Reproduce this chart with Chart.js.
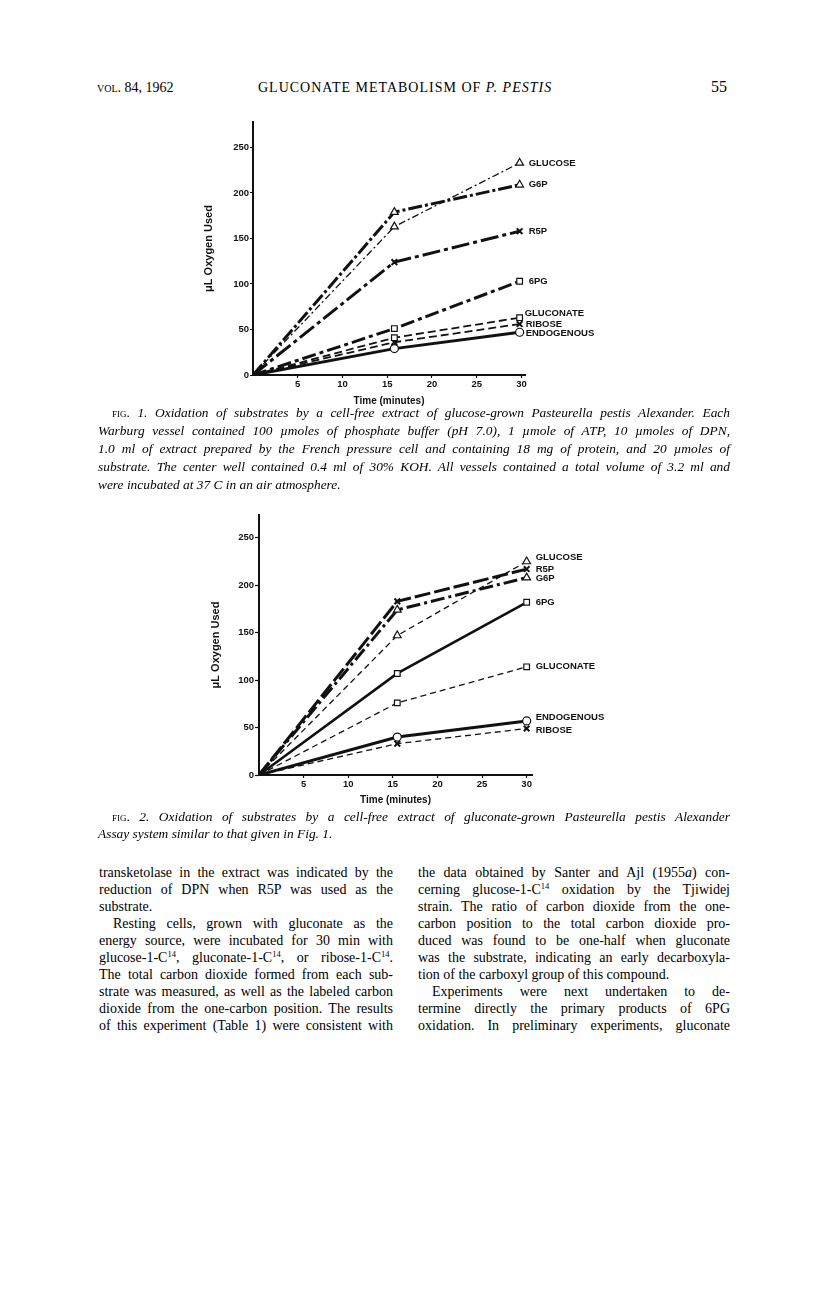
<!DOCTYPE html>
<html>
<head>
<meta charset="utf-8">
<script src="https://cdn.jsdelivr.net/npm/chart.js@4.4.1/dist/chart.umd.min.js"></script>
<style>
  body { margin: 0; background: #fff; width: 816px; height: 1298px; position: relative; overflow: hidden;
         font-family: "Liberation Serif", "DejaVu Serif", serif; color: #000; }
  .abs { position: absolute; }
  .hdr { font-size: 14px; line-height: 16px; }
  .cap { font-style: italic; font-size: 13.4px; line-height: 18px; width: 632px; }
  .cap div, .col div { text-align: justify; text-align-last: justify; }
  .cap div.last, .col div.last { text-align-last: left; }
  .sc { font-style: normal; font-variant: small-caps; }
  .col { font-size: 14px; line-height: 17px; width: 294px; }
  .ind { text-indent: 14px; }
  sup { font-size: 8.5px; line-height: 0; vertical-align: 5px; }
  canvas { position: absolute; }
</style>
</head>
<body>

<div class="abs hdr" style="left:97px; top:80px;"><span class="sc">vol.</span> 84, 1962</div>
<div class="abs hdr" style="left:258px; top:80px; letter-spacing:1px;">GLUCONATE METABOLISM OF <i>P. PESTIS</i></div>
<div class="abs" style="left:711px; top:78px; font-size:16px; line-height:18px;">55</div>

<canvas id="fig1" width="520" height="320" style="left:150px; top:100px;"></canvas>

<div class="abs cap" style="left:98px; top:404px;">
  <div style="padding-left:14px;"><span class="sc">fig.</span> 1. Oxidation of substrates by a cell-free extract of glucose-grown Pasteurella pestis Alexander. Each</div>
  <div>Warburg vessel contained 100 µmoles of phosphate buffer (pH 7.0), 1 µmole of ATP, 10 µmoles of DPN,</div>
  <div>1.0 ml of extract prepared by the French pressure cell and containing 18 mg of protein, and 20 µmoles of</div>
  <div>substrate. The center well contained 0.4 ml of 30% KOH. All vessels contained a total volume of 3.2 ml and</div>
  <div class="last">were incubated at 37 C in an air atmosphere.</div>
</div>

<canvas id="fig2" width="520" height="320" style="left:150px; top:500px;"></canvas>

<div class="abs cap" style="left:98px; top:808px; line-height:17px;">
  <div style="padding-left:14px;"><span class="sc">fig.</span> 2. Oxidation of substrates by a cell-free extract of gluconate-grown Pasteurella pestis Alexander</div>
  <div class="last">Assay system similar to that given in Fig. 1.</div>
</div>

<div class="abs col" style="left:99px; top:864px;">
  <div>transketolase in the extract was indicated by the</div>
  <div>reduction of DPN when R5P was used as the</div>
  <div class="last">substrate.</div>
  <div class="ind">Resting cells, grown with gluconate as the</div>
  <div>energy source, were incubated for 30 min with</div>
  <div>glucose-1-C<sup>14</sup>, gluconate-1-C<sup>14</sup>, or ribose-1-C<sup>14</sup>.</div>
  <div>The total carbon dioxide formed from each sub-</div>
  <div>strate was measured, as well as the labeled carbon</div>
  <div>dioxide from the one-carbon position. The results</div>
  <div>of this experiment (Table 1) were consistent with</div>
</div>

<div class="abs col" style="left:418px; top:864px; width:312px;">
  <div>the data obtained by Santer and Ajl (1955<i>a</i>) con-</div>
  <div>cerning glucose-1-C<sup>14</sup> oxidation by the Tjiwidej</div>
  <div>strain. The ratio of carbon dioxide from the one-</div>
  <div>carbon position to the total carbon dioxide pro-</div>
  <div>duced was found to be one-half when gluconate</div>
  <div>was the substrate, indicating an early decarboxyla-</div>
  <div class="last">tion of the carboxyl group of this compound.</div>
  <div class="ind">Experiments were next undertaken to de-</div>
  <div>termine directly the primary products of 6PG</div>
  <div>oxidation. In preliminary experiments, gluconate</div>
</div>

<script>
// Fig. 1: extract of glucose-grown cells (µL O2 used vs minutes)
var fig1Times = [0, 15.8, 29.8];
var fig1Glucose = [0, 163, 233];
var fig1G6P = [0, 179, 209];
var fig1R5P = [0, 124, 158];
var fig1SixPG = [0, 51, 103];
var fig1Gluconate = [0, 41, 63];
var fig1Ribose = [0, 36, 56];
var fig1Endogenous = [0, 29, 47];

// Fig. 2: extract of gluconate-grown cells
var fig2Times = [0, 15.5, 30];
var fig2Glucose = [0, 147, 225];
var fig2R5P = [0, 183, 217];
var fig2G6P = [0, 174, 208];
var fig2SixPG = [0, 107, 182];
var fig2Gluconate = [0, 76, 114];
var fig2Endogenous = [0, 40, 57];
var fig2Ribose = [0, 33, 49];

var xTickValues = [5, 10, 15, 20, 25, 30];
var yTickValues = [0, 50, 100, 150, 200, 250];

var SANS = '"Liberation Sans", Arial, sans-serif';

function makeDataset(label, times, values, st) {
    return {
        label: label,
        data: times.map(function(t, i) { return {x: t, y: values[i]}; }),
        borderColor: '#111',
        borderWidth: st.w,
        borderDash: st.dash,
        pointStyle: st.point,
        pointRadius: function(c) { return c.dataIndex === 0 ? 0 : (st.point === 'triangle' ? 4.5 : 4); },
        pointBackgroundColor: '#fff',
        pointBorderColor: '#111',
        pointBorderWidth: st.point === 'crossRot' ? 2 : 1.2,
        fill: false,
        tension: 0,
        labelDx: st.dx,
        labelDy: st.dy
    };
}

// writes the substrate name next to the last point of each line
var endLabels = {
    id: 'endLabels',
    afterDatasetsDraw: function(chart) {
        var ctx = chart.ctx;
        ctx.save();
        ctx.font = 'bold 9.5px ' + SANS;
        ctx.fillStyle = '#111';
        ctx.textBaseline = 'middle';
        chart.data.datasets.forEach(function(ds, i) {
            var pts = chart.getDatasetMeta(i).data;
            var p = pts[pts.length - 1];
            ctx.fillText(ds.label, p.x + ds.labelDx, p.y + ds.labelDy);
        });
        ctx.restore();
    }
};

function makeChart(id, datasets, g) {
    return new Chart(document.getElementById(id), {
        type: 'line',
        data: { datasets: datasets },
        options: {
            responsive: false,
            animation: false,
            layout: { padding: { top: g.top, right: g.right, left: 0, bottom: 0 } },
            plugins: { legend: { display: false }, tooltip: { enabled: false } },
            scales: {
                x: {
                    type: 'linear', min: 0, max: g.xMax,
                    afterBuildTicks: function(s) { s.ticks = xTickValues.map(function(v) { return {value: v}; }); },
                    afterFit: function(s) { s.height = 45; },
                    border: { display: true, color: '#111', width: 2 },
                    grid: { drawOnChartArea: false, color: '#111', tickLength: 3, tickWidth: 1.2 },
                    ticks: { color: '#111', padding: 1, autoSkip: false, maxRotation: 0,
                             font: { family: SANS, size: 9.5, weight: 'bold' } },
                    title: { display: true, text: 'Time (minutes)', color: '#111',
                             font: { family: SANS, size: 10, weight: 'bold' },
                             padding: { top: 0, bottom: g.xTitlePad } }
                },
                y: {
                    type: 'linear', min: 0, max: g.yMax,
                    afterBuildTicks: function(s) { s.ticks = yTickValues.map(function(v) { return {value: v}; }); },
                    afterFit: function(s) { s.width = g.yWidth; },
                    border: { display: true, color: '#111', width: 2 },
                    grid: { drawOnChartArea: false, color: '#111', tickLength: g.yTick, tickWidth: 1.2 },
                    ticks: { color: '#111', padding: 1, autoSkip: false,
                             font: { family: SANS, size: 9.5, weight: 'bold' } },
                    title: { display: true, text: 'μL Oxygen Used', color: '#111',
                             font: { family: SANS, size: 11, weight: 'bold' },
                             padding: { top: g.yTitlePad, bottom: 0 } }
                }
            }
        },
        plugins: [endLabels]
    });
}

makeChart('fig1', [
    makeDataset('GLUCOSE', fig1Times, fig1Glucose, {w: 1.3, dash: [7, 3, 2, 3], point: 'triangle', dx: 9, dy: 0}),
    makeDataset('G6P', fig1Times, fig1G6P, {w: 3, dash: [14, 3, 3, 3], point: 'triangle', dx: 9, dy: 0}),
    makeDataset('R5P', fig1Times, fig1R5P, {w: 3, dash: [18, 4, 4, 4], point: 'crossRot', dx: 9, dy: 0}),
    makeDataset('6PG', fig1Times, fig1SixPG, {w: 3, dash: [14, 4, 4, 4], point: 'rect', dx: 9, dy: 0}),
    makeDataset('GLUCONATE', fig1Times, fig1Gluconate, {w: 1.8, dash: [8, 4], point: 'rect', dx: 5, dy: -4}),
    makeDataset('RIBOSE', fig1Times, fig1Ribose, {w: 1.8, dash: [8, 4], point: 'crossRot', dx: 6, dy: 0}),
    makeDataset('ENDOGENOUS', fig1Times, fig1Endogenous, {w: 3, dash: [], point: 'circle', dx: 6, dy: 1})
], {top: 22, right: 145, xMax: 30.4, yMax: 278, yWidth: 103, yTick: 3, yTitlePad: 52, xTitlePad: 13});

makeChart('fig2', [
    makeDataset('GLUCOSE', fig2Times, fig2Glucose, {w: 1.3, dash: [6, 4], point: 'triangle', dx: 9, dy: -4}),
    makeDataset('R5P', fig2Times, fig2R5P, {w: 3, dash: [16, 4], point: 'crossRot', dx: 9, dy: 0}),
    makeDataset('G6P', fig2Times, fig2G6P, {w: 3, dash: [14, 4, 3, 4], point: 'triangle', dx: 9, dy: 1}),
    makeDataset('6PG', fig2Times, fig2SixPG, {w: 2.6, dash: [], point: 'rect', dx: 9, dy: 0}),
    makeDataset('GLUCONATE', fig2Times, fig2Gluconate, {w: 1.3, dash: [6, 4], point: 'rect', dx: 9, dy: 0}),
    makeDataset('ENDOGENOUS', fig2Times, fig2Endogenous, {w: 3, dash: [], point: 'circle', dx: 9, dy: -4}),
    makeDataset('RIBOSE', fig2Times, fig2Ribose, {w: 1.3, dash: [6, 4], point: 'crossRot', dx: 9, dy: 2})
], {top: 15, right: 138, xMax: 30.6, yMax: 274, yWidth: 109, yTick: 4, yTitlePad: 59, xTitlePad: 14});
</script>
</body>
</html>
